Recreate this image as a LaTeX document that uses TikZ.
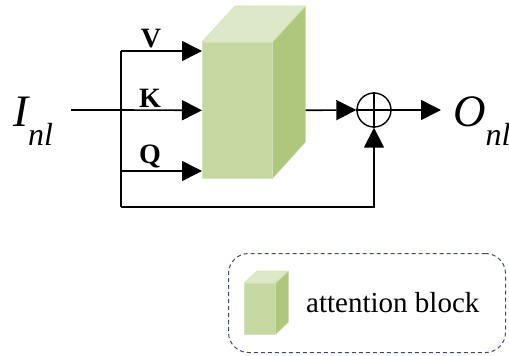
\documentclass[tikz,border=0pt]{standalone}
\usepackage{fontspec}
\setmainfont{Liberation Serif}
\usetikzlibrary{arrows.meta,calc}
\definecolor{cfront}{RGB}{197,216,162}
\definecolor{cside}{RGB}{174,199,124}
\definecolor{ctop}{RGB}{221,232,201}
\definecolor{cedge}{RGB}{212,226,186}
\definecolor{cdash}{RGB}{60,74,120}
\tikzset{
  conn/.style={line width=1.6pt,draw=black},
  arr/.style={conn,-{Triangle[length=20pt,width=20pt]}},
  lbl/.style={inner sep=0pt,anchor=base,font=\fontsize{28}{28}\selectfont\bfseries},
  face/.style={draw=cedge,line width=0.6pt,line join=round},
}
\begin{document}
\begin{tikzpicture}[x=1pt,y=-1pt]
\useasboundingbox (0,0) rectangle (509,356);
% main block
\node[face,fill=cfront,minimum width=70pt,minimum height=136pt,inner sep=0pt,anchor=north west] (blk) at (202,42) {};
\fill[ctop,face] (blk.north west) -- ++(33,-36) -- ++(70,0) -- (blk.north east) -- cycle;
\fill[cside,face] (blk.north east) -- ++(33,-36) -- ++(0,136) -- (blk.south east) -- cycle;
\coordinate (blkR) at ($(blk.east)+(33,0)$);
% sum
\node[draw,circle,line width=1.4pt,minimum size=34pt,inner sep=0pt] (sum) at (374,110) {};
\draw[line width=1.4pt] (sum.north) -- (sum.south) (sum.west) -- (sum.east);
% coordinates
\coordinate (in) at (71,110);
\coordinate (jv) at (121,51);
\coordinate (jk) at (121,110);
\coordinate (jq) at (121,171);
\coordinate (jb) at (121,207);
\coordinate (out) at (441,110);
% connectors
\draw[conn] (in) -- (jk);
\draw[conn] (jv) -- (jb);
\draw[arr] (jv) -- (jv -| blk.west);
\draw[arr] (jk) -- (blk.west);
\draw[arr] (jq) -- (jq -| blk.west);
\draw[arr] (blkR) -- (sum.west);
\draw[arr] (sum.east) -- (out);
\draw[arr] (jb) -| (sum.south);
% labels
\node[lbl] (lv) at (151,47) {V};
\node[lbl] (lk) at (150,107) {K};
\node[lbl] (lq) at (150,163) {Q};
\node[inner sep=0pt,anchor=base west] (Iin) at (13,126) {\fontsize{45}{45}\selectfont\itshape I\raisebox{-19pt}{\fontsize{32}{32}\selectfont\itshape nl}};
\node[inner sep=0pt,anchor=base west] (Oout) at (453,126) {\fontsize{45}{45}\selectfont\itshape O\raisebox{-19pt}{\fontsize{32}{32}\selectfont\itshape nl}};
% legend
\node[draw=cdash,dashed,dash pattern=on 4pt off 3pt,line width=1pt,rounded corners=20pt,minimum width=277pt,minimum height=99pt,anchor=north west] (legend) at (228,253) {};
\node[face,fill=cfront,minimum width=31pt,minimum height=51pt,inner sep=0pt,anchor=north west] (lblk) at (244,283) {};
\fill[ctop,face] (lblk.north west) -- ++(13,-12) -- ++(31,0) -- (lblk.north east) -- cycle;
\fill[cside,face] (lblk.north east) -- ++(13,-12) -- ++(0,51) -- (lblk.south east) -- cycle;
\node[inner sep=0pt,anchor=base west,font=\fontsize{29}{29}\selectfont] (ltext) at (306,312) {attention block};
\end{tikzpicture}
\end{document}
